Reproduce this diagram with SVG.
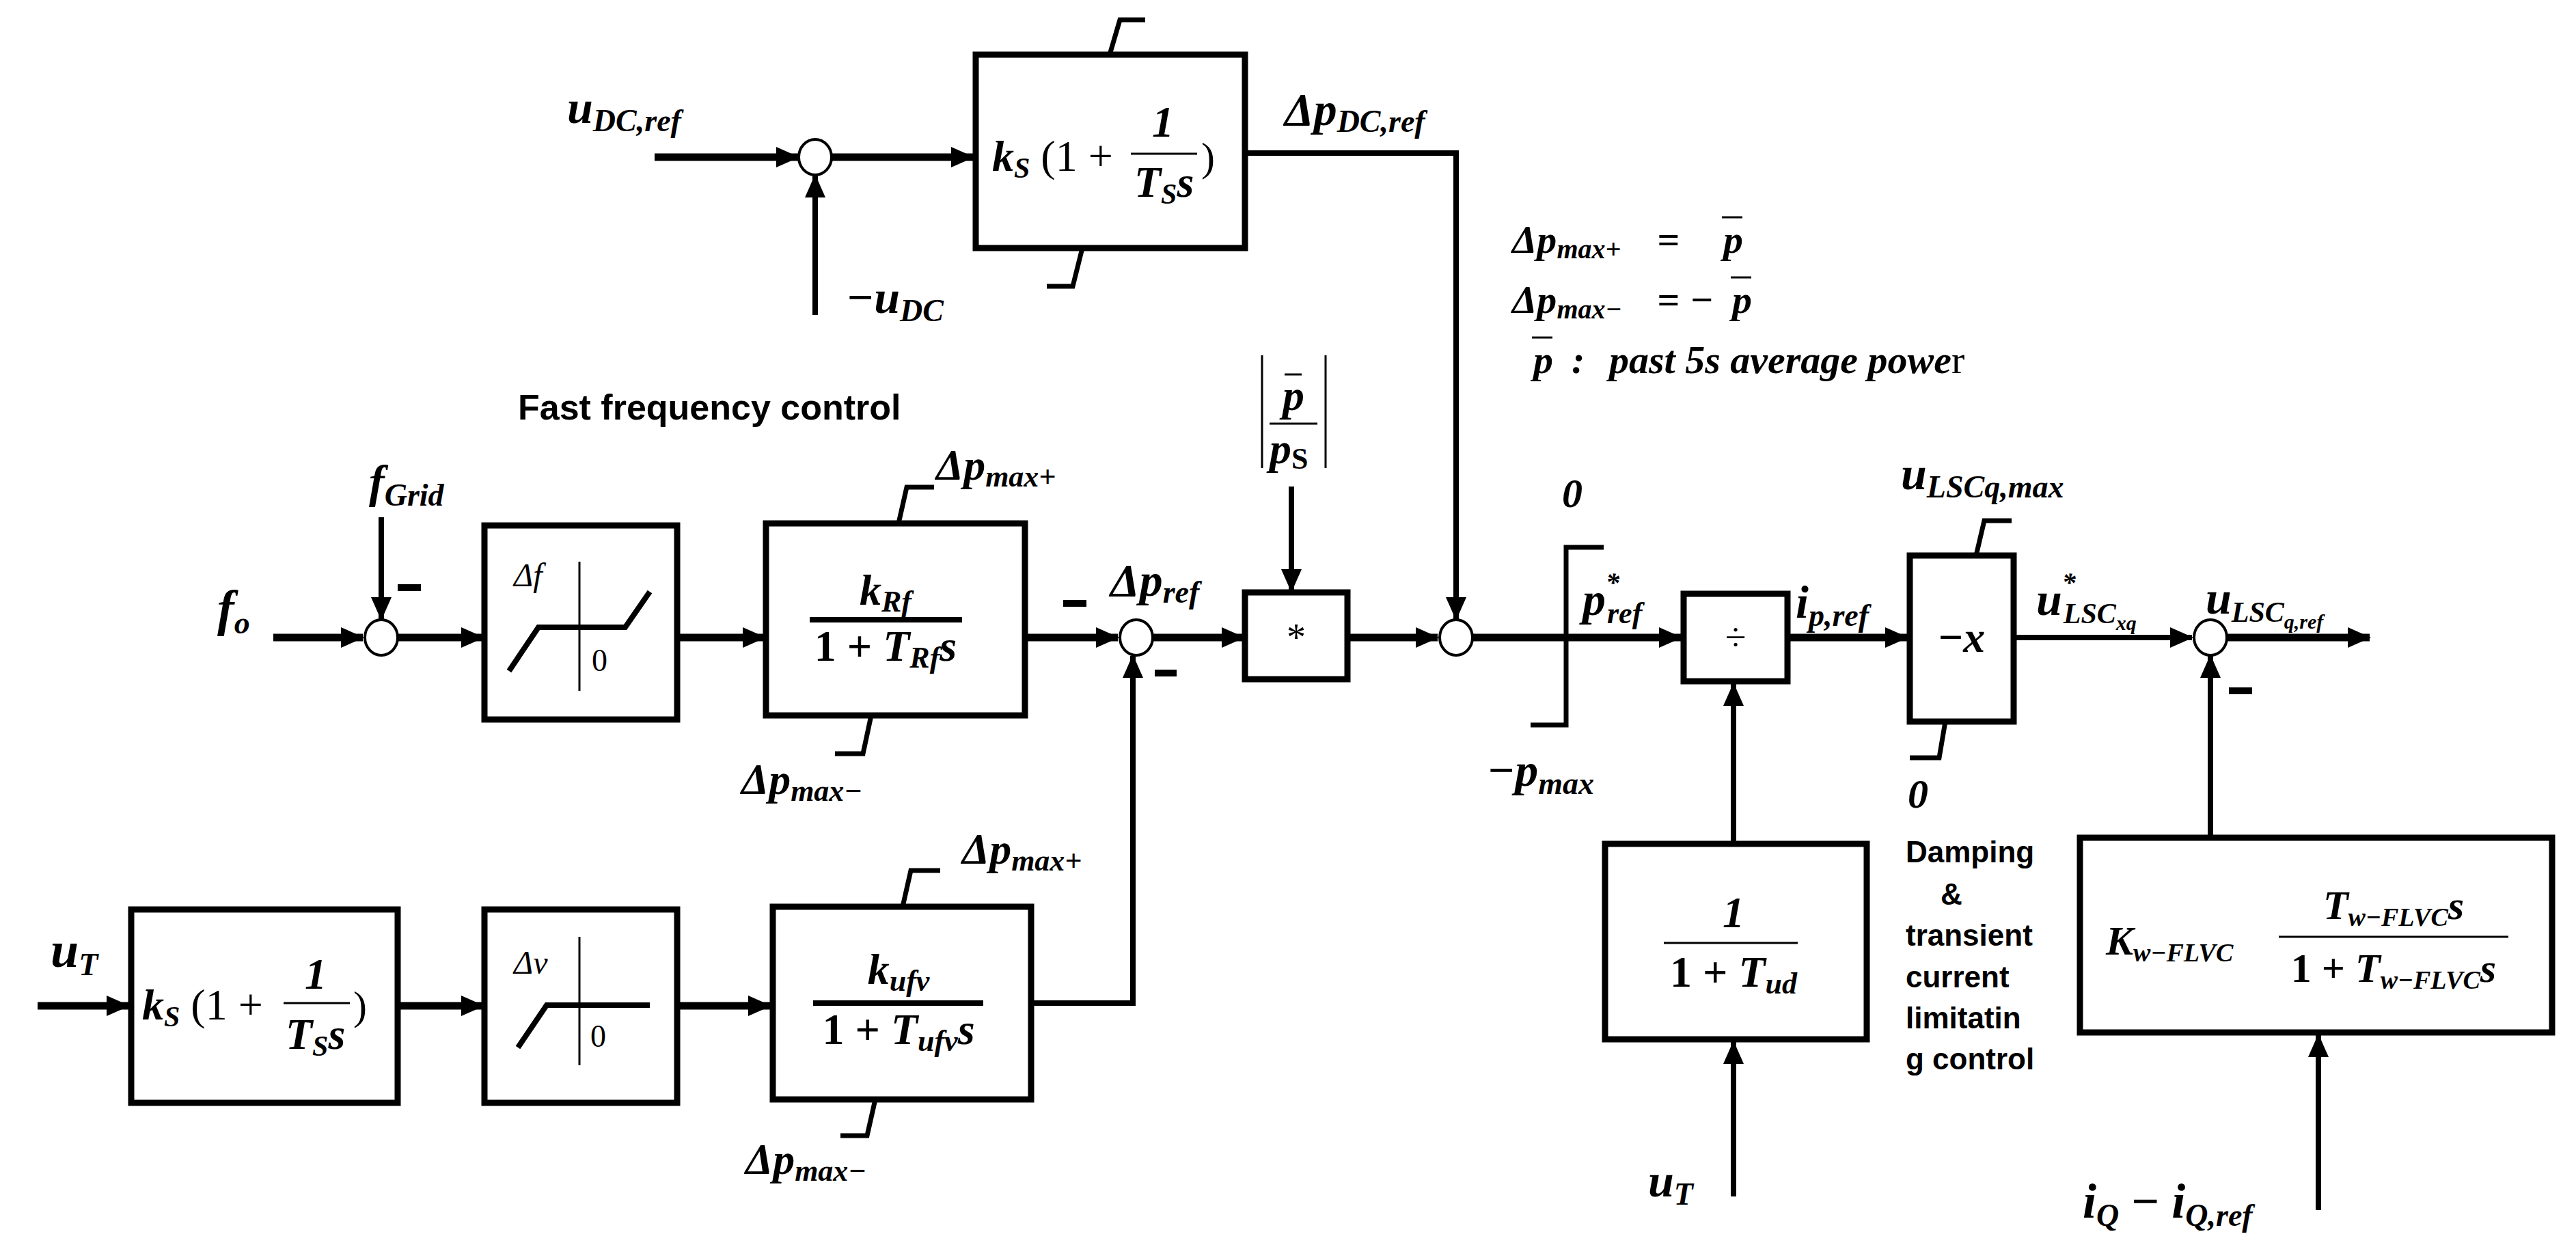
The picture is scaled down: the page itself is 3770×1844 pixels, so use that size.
<svg xmlns="http://www.w3.org/2000/svg" width="3770" height="1844" viewBox="0 0 3770 1844">
<style>
.bx{fill:#fff;stroke:#000;stroke-width:9}
.sm{fill:#fff;stroke:#000;stroke-width:4}
.w{fill:none;stroke:#000;stroke-width:8}
.wt{fill:none;stroke:#000;stroke-width:11}
.lim{fill:none;stroke:#000;stroke-width:7}
.thin{fill:none;stroke:#000;stroke-width:3}
.m{font-family:"Liberation Serif",serif;font-style:italic;font-weight:bold}
.mb{font-family:"Liberation Serif",serif}
.mi{font-family:"Liberation Serif",serif;font-style:italic}
.t{font-family:"Liberation Sans",Arial,sans-serif;font-weight:bold}
.mn{fill:#000}
</style>
<defs>
<marker id="a" markerUnits="userSpaceOnUse" markerWidth="34" markerHeight="30" refX="32" refY="15" orient="auto"><path d="M0,0 L34,15 L0,30 z" fill="#000"/></marker>
</defs>

<g id="connectors">
<path class="wt" d="M958,230 H1168" marker-end="url(#a)"/>
<path class="wt" d="M1218,230 H1424" marker-end="url(#a)"/>
<path class="w" d="M1193,461 V257" marker-end="url(#a)"/>
<path class="w" d="M1822,224 H2131 V906" marker-end="url(#a)"/>
<path class="w" d="M1890,712 V865" marker-end="url(#a)"/>
<path class="wt" d="M400,933 H531" marker-end="url(#a)"/>
<path class="w" d="M558,757 V906" marker-end="url(#a)"/>
<path class="wt" d="M583,933 H707" marker-end="url(#a)"/>
<path class="wt" d="M991,933 H1119" marker-end="url(#a)"/>
<path class="wt" d="M1500,933 H1636" marker-end="url(#a)"/>
<path class="wt" d="M1688,933 H1820" marker-end="url(#a)"/>
<path class="wt" d="M1972,933 H2104" marker-end="url(#a)"/>
<path class="wt" d="M55,1472 H188" marker-end="url(#a)"/>
<path class="wt" d="M582,1472 H707" marker-end="url(#a)"/>
<path class="wt" d="M991,1472 H1127" marker-end="url(#a)"/>
<path class="w" d="M1509,1468 H1658 V960" marker-end="url(#a)"/>
<path class="wt" d="M2156,933 H2460" marker-end="url(#a)"/>
<path class="wt" d="M2616,933 H2791" marker-end="url(#a)"/>
<path class="w" d="M2947,933 H3208" marker-end="url(#a)"/>
<path class="wt" d="M3260,933 H3468" marker-end="url(#a)"/>
<path class="w" d="M2537,1235 V1001" marker-end="url(#a)"/>
<path class="w" d="M2537,1751 V1525" marker-end="url(#a)"/>
<path class="w" d="M3235,1226 V960" marker-end="url(#a)"/>
<path class="w" d="M3393,1771 V1515" marker-end="url(#a)"/>
</g>

<g id="sum1"><ellipse class="sm" cx="1193" cy="230" rx="24" ry="26"/></g>
<g id="sum2"><ellipse class="sm" cx="558" cy="933" rx="24" ry="26"/></g>
<g id="sum3"><ellipse class="sm" cx="1663" cy="933" rx="24" ry="26"/></g>
<g id="sum4"><ellipse class="sm" cx="2131" cy="933" rx="24" ry="26"/></g>
<g id="sum5"><ellipse class="sm" cx="3235" cy="933" rx="24" ry="26"/></g>

<g id="pi-dc">
<rect class="bx" x="1428" y="80" width="394" height="283"/>
<path class="lim" d="M1624,80 L1639,29 H1676"/>
<path class="lim" d="M1584,363 L1570,419 H1532"/>
<text class="m" x="1452" y="250" font-size="64">k<tspan dy="10" font-size="42">S</tspan><tspan dy="-10" font-style="normal" font-weight="normal"> (1 + </tspan></text>
<text class="m" x="1702" y="200" text-anchor="middle" font-size="64" font-style="normal">1</text>
<line class="thin" x1="1655" y1="225" x2="1752" y2="225"/>
<text class="m" x="1660" y="288" font-size="64">T<tspan dy="10" font-size="42">S</tspan><tspan dy="-10">s</tspan></text>
<text class="mb" x="1758" y="250" font-size="60">)</text>
</g>

<g id="labels-top">
<text class="m" x="830" y="180" font-size="68">u<tspan font-size="46" dy="12">DC,ref</tspan></text>
<text class="m" x="1238" y="458" font-size="68">−u<tspan font-size="46" dy="12">DC</tspan></text>
<text class="m" x="1880" y="183" font-size="68">Δp<tspan font-size="46" dy="10">DC,ref</tspan></text>
<text class="t" x="758" y="614" font-size="52">Fast frequency control</text>
</g>

<g id="gain">
<text class="m" x="1893" y="600" text-anchor="middle" font-style="normal" font-size="64">p</text>
<line class="thin" x1="1880" y1="548" x2="1905" y2="548" stroke-width="5"/>
<line class="thin" x1="1858" y1="620" x2="1928" y2="620"/>
<text class="m" x="1858" y="678" font-size="64">p<tspan dy="8" font-size="44" font-style="normal">S</tspan></text>
<path class="thin" d="M1847,520 V685 M1940,520 V685" stroke-width="4"/>
</g>

<g id="legend">
<text class="m" x="2213" y="370" font-size="58">Δp<tspan dy="8" font-size="40">max+</tspan></text>
<text class="m" x="2425" y="370" font-size="58" font-style="normal">=</text>
<text class="m" x="2522" y="370" font-size="58" font-style="normal">p</text>
<line class="thin" x1="2520" y1="318" x2="2550" y2="318" stroke-width="5"/>
<text class="m" x="2213" y="458" font-size="58">Δp<tspan dy="8" font-size="40">max−</tspan></text>
<text class="m" x="2425" y="458" font-size="58" font-style="normal">= −</text>
<text class="m" x="2535" y="458" font-size="58" font-style="normal">p</text>
<line class="thin" x1="2533" y1="406" x2="2563" y2="406" stroke-width="5"/>
<text class="m" x="2244" y="546" font-size="58" font-style="normal">p</text>
<line class="thin" x1="2242" y1="494" x2="2272" y2="494" stroke-width="5"/>
<text class="m" x="2300" y="546" font-size="58" font-style="normal">:</text>
<text class="m" x="2355" y="546" font-size="58">past 5s average powe<tspan font-style="normal" font-weight="normal">r</tspan></text>
</g>

<g id="deadband-f">
<rect class="bx" x="709" y="769" width="282" height="284"/>
<line class="thin" x1="848" y1="822" x2="848" y2="1011"/>
<path class="w" d="M745,982 L788,918 H915 L951,866"/>
<text class="mi" x="752" y="858" font-size="48">Δf</text>
<text class="mb" x="866" y="982" font-size="46">0</text>
</g>

<g id="lag-rf">
<rect class="bx" x="1121" y="766" width="379" height="281"/>
<path class="lim" d="M1315,766 L1327,713 H1367"/>
<path class="lim" d="M1275,1047 L1263,1103 H1222"/>
<text class="m" x="1296" y="885" text-anchor="middle" font-size="64">k<tspan dy="10" font-size="44">Rf</tspan></text>
<line class="w" x1="1185" y1="907" x2="1408" y2="907" stroke-width="5"/>
<text class="m" x="1296" y="967" text-anchor="middle" font-size="64"><tspan font-style="normal">1 + </tspan>T<tspan dy="10" font-size="44">Rf</tspan><tspan dy="-10">s</tspan></text>
</g>

<g id="labels-mid">
<text class="m" x="540" y="728" font-size="68">f<tspan font-size="46" dy="12">Grid</tspan></text>
<rect class="mn" x="582" y="855" width="34" height="10"/>
<text class="m" x="318" y="915" font-size="74">f<tspan font-size="46" dy="12">o</tspan></text>
<text class="m" x="1370" y="702" font-size="64">Δp<tspan dy="10" font-size="44">max+</tspan></text>
<text class="m" x="1085" y="1162" font-size="64">Δp<tspan dy="10" font-size="44">max−</tspan></text>
<rect class="mn" x="1556" y="878" width="34" height="10"/>
<text class="m" x="1625" y="872" font-size="68">Δp<tspan font-size="46" dy="10">ref</tspan></text>
<rect class="mn" x="1690" y="980" width="32" height="10"/>
</g>

<g id="mult">
<rect class="bx" x="1822" y="867" width="150" height="127"/>
<text class="mb" x="1897" y="952" text-anchor="middle" font-size="56">*</text>
</g>

<g id="limiter">
<path class="lim" d="M2347,801 H2292 V1061 H2240" stroke-width="9"/>
<text class="m" x="2286" y="742" font-style="normal" font-size="60">0</text>
<text class="m" x="2176" y="1150" font-size="68">−p<tspan font-size="46" dy="12">max</tspan></text>
<text class="m" x="2316" y="900" font-size="68">p<tspan font-size="40" dy="-34">*</tspan><tspan font-size="44" dx="-18" dy="46">ref</tspan></text>
</g>

<g id="div">
<rect class="bx" x="2464" y="869" width="152" height="128"/>
<text class="mb" x="2540" y="952" text-anchor="middle" font-size="56">÷</text>
<text class="m" x="2628" y="904" font-size="68">i<tspan font-size="46" dy="12">p,ref</tspan></text>
</g>

<g id="neg-x">
<rect class="bx" x="2795" y="813" width="152" height="243"/>
<path class="lim" d="M2892,813 L2904,762 H2944"/>
<path class="lim" d="M2847,1056 L2838,1109 H2795"/>
<text class="m" x="2871" y="954" text-anchor="middle" font-size="64"><tspan font-style="normal">−</tspan>x</text>
<text class="m" x="2782" y="716" font-size="68">u<tspan font-size="46" dy="12">LSCq,max</tspan></text>
<text class="m" x="2792" y="1182" font-style="normal" font-size="60">0</text>
<text class="m" x="2980" y="900" font-size="68">u<tspan font-size="40" dy="-34">*</tspan><tspan font-size="42" dx="-18" dy="46">LSC</tspan><tspan dy="10" font-size="30">xq</tspan></text>
<text class="m" x="3228" y="898" font-size="68">u<tspan font-size="42" dy="12">LSC</tspan><tspan dy="10" font-size="30">q,ref</tspan></text>
<rect class="mn" x="3262" y="1006" width="34" height="10"/>
</g>

<g id="damping-text">
<text class="t" x="2789" y="1262" font-size="44">Damping</text>
<text class="t" x="2840" y="1324" font-size="44">&amp;</text>
<text class="t" x="2789" y="1384" font-size="44">transient</text>
<text class="t" x="2789" y="1445" font-size="44">current</text>
<text class="t" x="2789" y="1505" font-size="44">limitatin</text>
<text class="t" x="2789" y="1565" font-size="44">g control</text>
</g>

<g id="lag-ud">
<rect class="bx" x="2349" y="1235" width="383" height="286"/>
<text class="m" x="2537" y="1357" text-anchor="middle" font-style="normal" font-size="64">1</text>
<line class="thin" x1="2435" y1="1380" x2="2631" y2="1380"/>
<text class="m" x="2537" y="1444" text-anchor="middle" font-size="64"><tspan font-style="normal">1 + </tspan>T<tspan dy="10" font-size="44">ud</tspan></text>
<text class="m" x="2412" y="1751" font-size="68">u<tspan font-size="46" dy="12">T</tspan></text>
</g>

<g id="washout">
<rect class="bx" x="3044" y="1226" width="691" height="285"/>
<text class="m" x="3082" y="1397" font-size="60">K<tspan dy="10" font-size="38">w−FLVC</tspan></text>
<text class="m" x="3503" y="1345" text-anchor="middle" font-size="60">T<tspan dy="10" font-size="38">w−FLVC</tspan><tspan dy="-10">s</tspan></text>
<line class="thin" x1="3335" y1="1371" x2="3671" y2="1371"/>
<text class="m" x="3503" y="1437" text-anchor="middle" font-size="60"><tspan font-style="normal">1 + </tspan>T<tspan dy="10" font-size="38">w−FLVC</tspan><tspan dy="-10">s</tspan></text>
<text class="m" x="3048" y="1782" font-size="72">i<tspan font-size="46" dy="12">Q</tspan><tspan dy="-12" font-style="normal"> − </tspan>i<tspan font-size="46" dy="12">Q,ref</tspan></text>
</g>

<g id="pi-ut">
<rect class="bx" x="192" y="1331" width="390" height="283"/>
<text class="m" x="208" y="1492" font-size="64">k<tspan dy="10" font-size="42">S</tspan><tspan dy="-10" font-style="normal" font-weight="normal"> (1 + </tspan></text>
<text class="m" x="462" y="1447" text-anchor="middle" font-style="normal" font-size="64">1</text>
<line class="thin" x1="415" y1="1468" x2="512" y2="1468"/>
<text class="m" x="418" y="1535" font-size="64">T<tspan dy="10" font-size="42">S</tspan><tspan dy="-10">s</tspan></text>
<text class="mb" x="517" y="1492" font-size="60">)</text>
<text class="m" x="74" y="1415" font-size="74">u<tspan font-size="46" dy="12">T</tspan></text>
</g>

<g id="deadband-v">
<rect class="bx" x="709" y="1331" width="282" height="283"/>
<line class="thin" x1="848" y1="1371" x2="848" y2="1559"/>
<path class="w" d="M758,1533 L800,1471 H951"/>
<text class="mi" x="752" y="1425" font-size="48">Δv</text>
<text class="mb" x="864" y="1532" font-size="46">0</text>
</g>

<g id="lag-ufv">
<rect class="bx" x="1131" y="1327" width="378" height="282"/>
<path class="lim" d="M1321,1327 L1333,1274 H1376"/>
<path class="lim" d="M1281,1609 L1269,1662 H1230"/>
<text class="m" x="1315" y="1440" text-anchor="middle" font-size="64">k<tspan dy="10" font-size="44">ufv</tspan></text>
<line class="w" x1="1190" y1="1468" x2="1439" y2="1468" stroke-width="5"/>
<text class="m" x="1315" y="1528" text-anchor="middle" font-size="64"><tspan font-style="normal">1 + </tspan>T<tspan dy="10" font-size="44">ufv</tspan><tspan dy="-10">s</tspan></text>
<text class="m" x="1408" y="1264" font-size="64">Δp<tspan dy="10" font-size="44">max+</tspan></text>
<text class="m" x="1091" y="1718" font-size="64">Δp<tspan dy="10" font-size="44">max−</tspan></text>
</g>
</svg>
